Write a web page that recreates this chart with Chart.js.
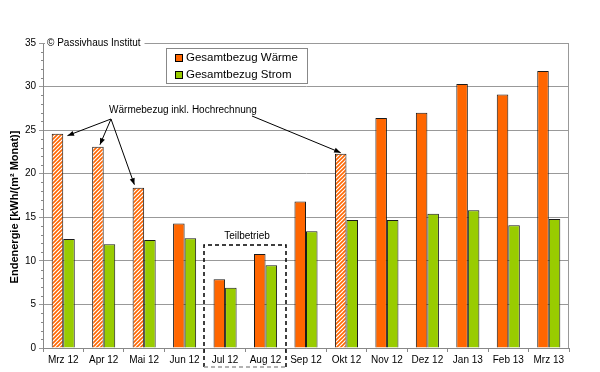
<!DOCTYPE html>
<html>
<head>
<meta charset="utf-8">
<script src="https://cdn.jsdelivr.net/npm/chart.js@4"></script>
<style>
  html, body { margin: 0; padding: 0; background: #fff; }
  #wrap { width: 600px; height: 372px; }
</style>
</head>
<body>
<div id="wrap"><canvas id="chart" width="600" height="372"></canvas></div>
<script>
// data
const months = ['Mrz 12', 'Apr 12', 'Mai 12', 'Jun 12', 'Jul 12', 'Aug 12', 'Sep 12', 'Okt 12', 'Nov 12', 'Dez 12', 'Jan 13', 'Feb 13', 'Mrz 13'];
const waerme = [24.6, 23.1, 18.4, 14.3, 7.9, 10.8, 16.8, 22.3, 26.4, 27.0, 30.3, 29.1, 31.8];
const strom = [12.5, 11.9, 12.4, 12.6, 6.9, 9.5, 13.4, 14.7, 14.7, 15.4, 15.8, 14.1, 14.8];
const hochrechnung = ['Mrz 12', 'Apr 12', 'Mai 12', 'Okt 12'];
const teilbetrieb = ['Jul 12', 'Aug 12'];
const seriesNames = ['Gesamtbezug Wärme', 'Gesamtbezug Strom'];
const yTitle = 'Endenergie [kWh/(m² Monat)]';

const ORANGE = '#ff6600';
const GREEN = '#99cc00';
const FONT = "'Liberation Sans', Arial, sans-serif";

// striped fill for the extrapolated months
function makeHatch() {
    const c = document.createElement('canvas');
    c.width = 4; c.height = 4;
    const g = c.getContext('2d');
    g.fillStyle = '#fff';
    g.fillRect(0, 0, 4, 4);
    g.strokeStyle = ORANGE;
    g.lineWidth = 1.6;
    g.beginPath();
    g.moveTo(-1, 5); g.lineTo(5, -1);
    g.moveTo(-1, 1); g.lineTo(1, -1);
    g.moveTo(3, 5); g.lineTo(5, 3);
    g.stroke();
    return g.createPattern(c, 'repeat');
}

const ctx = document.getElementById('chart').getContext('2d');
const hatch = makeHatch();
const waermeFill = months.map(m => hochrechnung.includes(m) ? hatch : ORANGE);

function arrow(c, x1, y1, x2, y2) {
    c.beginPath();
    c.moveTo(x1, y1);
    c.lineTo(x2, y2);
    c.stroke();
    const a = Math.atan2(y2 - y1, x2 - x1);
    const len = 7, w = 0.38;
    c.beginPath();
    c.moveTo(x2, y2);
    c.lineTo(x2 - len * Math.cos(a - w), y2 - len * Math.sin(a - w));
    c.lineTo(x2 - len * Math.cos(a + w), y2 - len * Math.sin(a + w));
    c.closePath();
    c.fill();
}

const decorations = {
    id: 'decorations',
    beforeDatasetsDraw(chart) {
        const { ctx: c, chartArea: a, scales: { y } } = chart;
        c.save();
        // top / right frame
        c.strokeStyle = '#999';
        c.lineWidth = 1;
        c.beginPath();
        c.moveTo(a.left, a.top + 0.5);
        c.lineTo(a.right - 0.5, a.top + 0.5);
        c.lineTo(a.right - 0.5, a.bottom);
        c.stroke();
        // minor ticks on the value axis
        c.strokeStyle = '#888';
        c.beginPath();
        for (let v = 1; v < 35; v++) {
            if (v % 5 === 0) continue;
            const py = Math.round(y.getPixelForValue(v)) + 0.5;
            c.moveTo(a.left - 2, py);
            c.lineTo(a.left, py);
        }
        c.stroke();

        // value axis title
        c.translate(15, 207);
        c.rotate(-Math.PI / 2);
        c.font = 'bold 11px ' + FONT;
        c.textAlign = 'center';
        c.textBaseline = 'middle';
        c.fillStyle = '#000';
        c.fillText(yTitle, 0, 0);
        c.restore();
    },
    afterDraw(chart) {
        const { ctx: c, chartArea: a, scales: { x, y } } = chart;
        const bars = chart.getDatasetMeta(0).data;
        c.save();

        // copyright label sitting on the top frame
        c.font = '10px ' + FONT;
        c.textBaseline = 'middle';
        const copy = '© Passivhaus Institut';
        const cw = c.measureText(copy).width;
        c.fillStyle = '#fff';
        c.fillRect(a.left + 2, a.top - 5, cw + 6, 10);
        c.fillStyle = '#000';
        c.fillText(copy, a.left + 4, a.top);

        // legend box
        const lx = 166, ly = 48, lw = 141, lh = 35;
        c.fillStyle = '#fff';
        c.fillRect(lx, ly, lw, lh);
        c.strokeStyle = '#888';
        c.strokeRect(lx + 0.5, ly + 0.5, lw, lh);
        c.font = '11.5px ' + FONT;
        [ORANGE, GREEN].forEach((col, i) => {
            const ry = ly + 10 + i * 17;
            c.fillStyle = col;
            c.fillRect(lx + 9, ry - 4, 8, 8);
            c.strokeStyle = '#000';
            c.strokeRect(lx + 9.5, ry - 3.5, 7, 7);
            c.fillStyle = '#000';
            c.fillText(seriesNames[i], lx + 20, ry);
        });

        // annotation for extrapolated heat values
        c.font = '10px ' + FONT;
        c.textAlign = 'center';
        c.fillText('Wärmebezug inkl. Hochrechnung', 183, 110);
        c.strokeStyle = '#000';
        c.fillStyle = '#000';
        c.lineWidth = 1;
        const tipOffsets = { 'Mrz 12': [10, 2], 'Apr 12': [2, -2], 'Mai 12': [-4, -3] };
        Object.keys(tipOffsets).forEach(m => {
            const b = bars[months.indexOf(m)];
            arrow(c, 111, 119, b.x + tipOffsets[m][0], b.y + tipOffsets[m][1]);
        });
        const okt = bars[months.indexOf('Okt 12')];
        arrow(c, 252, 116, okt.x, okt.y - 1);

        // partial operation box
        const i0 = months.indexOf(teilbetrieb[0]);
        const i1 = months.indexOf(teilbetrieb[teilbetrieb.length - 1]);
        const left = Math.round(x.getPixelForValue(i0) - 21);
        const right = Math.round(x.getPixelForValue(i1) + 20);
        const top = Math.round(y.getPixelForValue(11.8));
        const bottom = 367;
        c.setLineDash([4, 3]);
        c.lineWidth = 1.5;
        c.beginPath();
        c.moveTo(left, bottom);
        c.lineTo(left, top);
        c.lineTo(right, top);
        c.lineTo(right, bottom);
        c.stroke();
        c.strokeStyle = '#999';
        c.beginPath();
        c.moveTo(left, bottom);
        c.lineTo(right, bottom);
        c.stroke();
        c.setLineDash([]);
        c.fillText('Teilbetrieb', (left + right) / 2 + 2, top - 9);
        c.restore();
    }
};

new Chart(ctx, {
    type: 'bar',
    data: {
        labels: months,
        datasets: [
            {
                label: seriesNames[0],
                data: waerme,
                backgroundColor: waermeFill,
                borderColor: '#1a1a1a',
                borderWidth: 1,
                categoryPercentage: 0.57,
                barPercentage: 1
            },
            {
                label: seriesNames[1],
                data: strom,
                backgroundColor: GREEN,
                borderColor: '#1a1a1a',
                borderWidth: 1,
                categoryPercentage: 0.57,
                barPercentage: 1
            }
        ]
    },
    options: {
        responsive: false,
        animation: false,
        layout: { padding: { top: 43, right: 31, left: 0, bottom: 0 } },
        plugins: {
            legend: { display: false },
            tooltip: { enabled: false }
        },
        scales: {
            x: {
                offset: true,
                grid: { display: true, drawOnChartArea: false, offset: true, tickLength: 4, color: '#888' },
                border: { color: '#888' },
                ticks: { color: '#000', font: { family: FONT, size: 10 }, padding: 2, maxRotation: 0 },
                afterFit: s => { s.height = 24; }
            },
            y: {
                min: 0,
                max: 35,
                ticks: { stepSize: 5, color: '#000', font: { family: FONT, size: 10 }, padding: 3 },
                grid: { color: '#999', tickLength: 4 },
                border: { color: '#888' },
                afterFit: s => { s.width = 43; }
            }
        }
    },
    plugins: [decorations]
});
</script>
</body>
</html>
